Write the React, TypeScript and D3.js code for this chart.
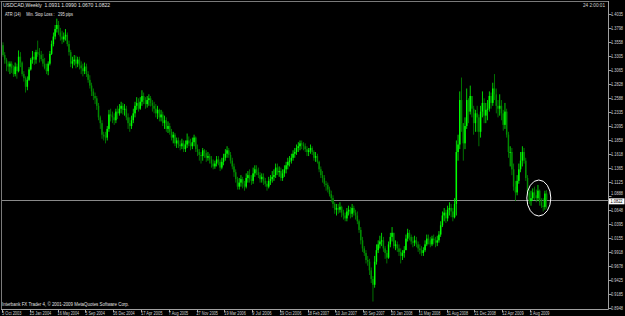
import React from "react";
import * as d3 from "d3";

const closes = [1.333,1.325,1.318,1.313,1.318,1.310,1.300,1.313,1.305,1.330,1.320,1.300,1.293,1.278,1.290,1.308,1.325,1.330,1.325,1.338,1.335,1.333,1.326,1.318,1.310,1.305,1.318,1.335,1.352,1.365,1.378,1.385,1.372,1.365,1.360,1.365,1.368,1.352,1.338,1.318,1.322,1.325,1.318,1.325,1.315,1.310,1.305,1.313,1.300,1.290,1.280,1.270,1.262,1.258,1.245,1.225,1.215,1.195,1.192,1.190,1.205,1.230,1.228,1.225,1.220,1.235,1.232,1.240,1.245,1.238,1.240,1.225,1.215,1.210,1.220,1.232,1.245,1.250,1.240,1.252,1.262,1.255,1.248,1.255,1.258,1.250,1.245,1.240,1.232,1.238,1.225,1.230,1.215,1.220,1.205,1.210,1.200,1.190,1.195,1.180,1.185,1.178,1.175,1.180,1.170,1.178,1.185,1.180,1.175,1.182,1.190,1.170,1.165,1.160,1.158,1.168,1.163,1.155,1.158,1.152,1.145,1.140,1.145,1.152,1.148,1.138,1.148,1.155,1.162,1.168,1.160,1.150,1.140,1.130,1.118,1.105,1.112,1.118,1.110,1.105,1.120,1.125,1.118,1.115,1.128,1.135,1.130,1.125,1.118,1.122,1.115,1.110,1.105,1.115,1.118,1.122,1.125,1.138,1.130,1.132,1.120,1.128,1.135,1.142,1.148,1.150,1.155,1.162,1.165,1.172,1.175,1.180,1.178,1.175,1.170,1.165,1.168,1.172,1.165,1.155,1.158,1.148,1.135,1.125,1.120,1.110,1.108,1.100,1.092,1.085,1.075,1.065,1.068,1.065,1.070,1.060,1.055,1.050,1.062,1.065,1.058,1.068,1.060,1.055,1.045,1.030,1.012,0.998,0.990,0.978,0.975,0.960,0.945,0.935,0.975,0.995,1.005,1.010,1.012,0.998,0.990,0.982,1.005,1.018,1.025,1.002,1.005,0.998,0.992,0.985,0.990,0.995,1.015,1.025,1.018,1.010,1.008,1.012,1.005,0.998,0.995,0.990,0.995,1.005,1.015,1.012,1.005,1.015,1.012,1.008,1.012,1.022,1.038,1.055,1.060,1.050,1.065,1.068,1.062,1.052,1.075,1.165,1.178,1.255,1.215,1.180,1.210,1.255,1.235,1.262,1.240,1.215,1.232,1.225,1.200,1.235,1.250,1.228,1.238,1.240,1.262,1.250,1.275,1.265,1.245,1.240,1.245,1.232,1.212,1.235,1.195,1.165,1.165,1.135,1.105,1.095,1.115,1.135,1.150,1.165,1.150,1.120,1.095,1.080,1.085,1.095,1.090,1.085,1.098,1.078,1.072,1.070,1.093,1.0822];

const opens = [1.350,1.333,1.325,1.318,1.313,1.318,1.310,1.300,1.313,1.305,1.330,1.320,1.300,1.293,1.278,1.290,1.308,1.325,1.330,1.325,1.338,1.335,1.333,1.326,1.318,1.310,1.305,1.318,1.335,1.352,1.365,1.378,1.385,1.372,1.365,1.360,1.365,1.368,1.352,1.338,1.318,1.322,1.325,1.318,1.325,1.315,1.310,1.305,1.313,1.300,1.290,1.280,1.270,1.262,1.258,1.245,1.225,1.215,1.195,1.192,1.190,1.205,1.230,1.228,1.225,1.220,1.235,1.232,1.240,1.245,1.238,1.240,1.225,1.215,1.210,1.220,1.232,1.245,1.250,1.240,1.252,1.262,1.255,1.248,1.255,1.258,1.250,1.245,1.240,1.232,1.238,1.225,1.230,1.215,1.220,1.205,1.210,1.200,1.190,1.195,1.180,1.185,1.178,1.175,1.180,1.170,1.178,1.185,1.180,1.175,1.182,1.190,1.170,1.165,1.160,1.158,1.168,1.163,1.155,1.158,1.152,1.145,1.140,1.145,1.152,1.148,1.138,1.148,1.155,1.162,1.168,1.160,1.150,1.140,1.130,1.118,1.105,1.112,1.118,1.110,1.105,1.120,1.125,1.118,1.115,1.128,1.135,1.130,1.125,1.118,1.122,1.115,1.110,1.105,1.115,1.118,1.122,1.125,1.138,1.130,1.132,1.120,1.128,1.135,1.142,1.148,1.150,1.155,1.162,1.165,1.172,1.175,1.180,1.178,1.175,1.170,1.165,1.168,1.172,1.165,1.155,1.158,1.148,1.135,1.125,1.120,1.110,1.108,1.100,1.092,1.085,1.075,1.065,1.068,1.065,1.070,1.060,1.055,1.050,1.062,1.065,1.058,1.068,1.060,1.055,1.045,1.030,1.012,0.998,0.990,0.978,0.975,0.960,0.945,0.935,0.975,0.995,1.005,1.010,1.012,0.998,0.990,0.982,1.005,1.018,1.025,1.002,1.005,0.998,0.992,0.985,0.990,0.995,1.015,1.025,1.018,1.010,1.008,1.012,1.005,0.998,0.995,0.990,0.995,1.005,1.015,1.012,1.005,1.015,1.012,1.008,1.012,1.022,1.038,1.055,1.060,1.050,1.065,1.068,1.062,1.052,1.075,1.165,1.178,1.255,1.215,1.180,1.210,1.255,1.235,1.262,1.240,1.215,1.232,1.225,1.200,1.235,1.250,1.228,1.238,1.240,1.262,1.250,1.275,1.265,1.245,1.240,1.245,1.232,1.212,1.235,1.195,1.165,1.165,1.135,1.105,1.095,1.115,1.135,1.150,1.165,1.150,1.120,1.095,1.080,1.085,1.095,1.090,1.085,1.098,1.078,1.072,1.070,1.0931];

const highs = [1.355,1.338,1.328,1.322,1.322,1.322,1.315,1.320,1.318,1.341,1.338,1.322,1.305,1.296,1.296,1.312,1.328,1.340,1.338,1.342,1.358,1.345,1.340,1.335,1.328,1.318,1.322,1.340,1.358,1.372,1.385,1.396,1.392,1.380,1.375,1.372,1.378,1.372,1.358,1.342,1.330,1.333,1.332,1.330,1.330,1.322,1.318,1.320,1.318,1.305,1.298,1.285,1.275,1.268,1.262,1.250,1.228,1.220,1.200,1.200,1.210,1.238,1.240,1.235,1.232,1.240,1.245,1.248,1.252,1.250,1.248,1.245,1.232,1.225,1.228,1.240,1.252,1.260,1.258,1.260,1.272,1.268,1.260,1.262,1.265,1.262,1.255,1.252,1.248,1.245,1.240,1.238,1.235,1.228,1.225,1.218,1.215,1.205,1.200,1.198,1.190,1.190,1.185,1.188,1.185,1.185,1.197,1.192,1.188,1.190,1.195,1.192,1.178,1.170,1.165,1.172,1.170,1.168,1.165,1.162,1.158,1.152,1.150,1.158,1.158,1.152,1.155,1.162,1.170,1.175,1.172,1.165,1.155,1.145,1.135,1.122,1.120,1.125,1.122,1.115,1.128,1.132,1.135,1.125,1.138,1.142,1.142,1.138,1.130,1.128,1.128,1.120,1.115,1.122,1.125,1.132,1.135,1.145,1.145,1.140,1.138,1.135,1.142,1.148,1.155,1.158,1.162,1.168,1.172,1.178,1.182,1.185,1.185,1.182,1.180,1.175,1.172,1.178,1.175,1.168,1.165,1.162,1.150,1.140,1.132,1.125,1.115,1.112,1.105,1.098,1.090,1.078,1.075,1.075,1.078,1.072,1.065,1.060,1.068,1.072,1.070,1.075,1.072,1.065,1.062,1.048,1.035,1.018,1.002,0.995,0.985,0.980,0.965,0.950,0.985,1.005,1.012,1.020,1.025,1.018,1.002,0.995,1.010,1.025,1.035,1.025,1.012,1.010,1.005,0.998,0.995,1.002,1.022,1.032,1.030,1.022,1.018,1.020,1.018,1.010,1.005,1.002,1.000,1.012,1.022,1.022,1.018,1.020,1.022,1.018,1.020,1.028,1.045,1.062,1.068,1.065,1.072,1.078,1.075,1.068,1.085,1.185,1.195,1.270,1.294,1.210,1.225,1.275,1.258,1.280,1.262,1.245,1.238,1.245,1.230,1.245,1.270,1.258,1.250,1.255,1.270,1.268,1.285,1.300,1.275,1.255,1.265,1.255,1.238,1.250,1.240,1.200,1.175,1.172,1.145,1.115,1.125,1.145,1.165,1.175,1.172,1.155,1.125,1.100,1.098,1.102,1.105,1.100,1.108,1.100,1.085,1.085,1.098,1.099];

const lows = [1.330,1.318,1.305,1.304,1.300,1.302,1.295,1.296,1.292,1.303,1.312,1.296,1.287,1.268,1.272,1.288,1.306,1.318,1.316,1.318,1.330,1.320,1.322,1.313,1.308,1.300,1.298,1.315,1.333,1.348,1.360,1.372,1.368,1.358,1.352,1.355,1.358,1.348,1.332,1.312,1.310,1.315,1.310,1.312,1.308,1.300,1.296,1.300,1.295,1.285,1.275,1.262,1.255,1.248,1.238,1.220,1.205,1.188,1.185,1.180,1.185,1.200,1.218,1.215,1.212,1.215,1.222,1.228,1.232,1.230,1.228,1.220,1.205,1.200,1.205,1.215,1.225,1.238,1.235,1.238,1.245,1.248,1.240,1.242,1.245,1.244,1.235,1.232,1.225,1.222,1.218,1.218,1.210,1.205,1.200,1.198,1.195,1.185,1.180,1.175,1.172,1.172,1.168,1.170,1.165,1.165,1.172,1.175,1.168,1.170,1.175,1.165,1.158,1.150,1.145,1.150,1.155,1.148,1.150,1.145,1.138,1.135,1.136,1.140,1.142,1.132,1.135,1.142,1.150,1.155,1.155,1.145,1.135,1.122,1.112,1.100,1.100,1.105,1.102,1.098,1.102,1.112,1.112,1.108,1.110,1.122,1.125,1.120,1.112,1.112,1.108,1.105,1.098,1.102,1.108,1.112,1.115,1.120,1.125,1.122,1.115,1.115,1.122,1.128,1.135,1.140,1.145,1.150,1.155,1.160,1.165,1.168,1.170,1.168,1.165,1.158,1.158,1.162,1.160,1.150,1.148,1.145,1.130,1.120,1.112,1.105,1.098,1.095,1.088,1.078,1.068,1.058,1.055,1.058,1.060,1.052,1.048,1.045,1.045,1.055,1.050,1.052,1.055,1.048,1.040,1.025,1.005,0.992,0.985,0.972,0.968,0.952,0.938,0.906,0.930,0.970,0.990,0.998,1.002,0.992,0.980,0.972,0.980,1.000,1.010,0.998,0.995,0.992,0.985,0.972,0.978,0.982,0.995,1.010,1.012,1.005,1.000,1.002,1.000,0.992,0.988,0.985,0.985,0.992,1.002,1.005,1.000,1.002,1.005,1.000,1.002,1.008,1.018,1.035,1.045,1.042,1.045,1.055,1.052,1.045,1.050,1.055,1.150,1.170,1.200,1.150,1.170,1.205,1.215,1.230,1.225,1.195,1.200,1.200,1.175,1.190,1.225,1.215,1.215,1.220,1.235,1.240,1.245,1.255,1.232,1.225,1.228,1.220,1.202,1.205,1.190,1.155,1.140,1.125,1.098,1.080,1.090,1.110,1.130,1.140,1.145,1.115,1.090,1.075,1.072,1.080,1.082,1.078,1.080,1.072,1.068,1.062,1.065,1.067];

const dateLabels = ["5 Oct 2003","25 Jan 2004","16 May 2004","5 Sep 2004","26 Dec 2004","17 Apr 2005","7 Aug 2005","27 Nov 2005","19 Mar 2006","9 Jul 2006","29 Oct 2006","18 Feb 2007","10 Jun 2007","30 Sep 2007","20 Jan 2008","11 May 2008","31 Aug 2008","21 Dec 2008","12 Apr 2009","2 Aug 2009"];
const priceLabels = ["1.4035","1.3798","1.3558","1.3305","1.3065","1.2828","1.2588","1.2335","1.2095","1.1858","1.1618","1.1365","1.1125","1.0888","1.0648","1.0395","1.0155","0.9918","0.9678","0.9425","0.9185","0.8948"];

const symbolTitle = "USDCAD,Weekly  1.0931 1.0990 1.0670 1.0822";
const atrTitle = "ATR (14)     Min. Stop Loss :   295 pips";
const copyright = "Interbank FX Trader 4, \u00a9 2001-2009 MetaQuotes Software Corp.";
const timerText = "24 2:00:01";
const currentPrice = 1.0822;

const W = 625, H = 316;
const FONT = "'Liberation Sans', Arial, sans-serif";

export default function App() {
  const x = d3.scaleLinear().domain([0, 304]).range([3, 531]);
  const y = d3.scaleLinear().domain([0.8948, 1.3798]).range([308, 28]);
  const axisX = 608.5, axisY = 309.5;
  const cy = y(currentPrice);
  const lastIdx = closes.length - 1;
  const circleCx = (x(lastIdx - 9) + x(lastIdx)) / 2;
  return (
    <div style={{ position: "absolute", left: 0, top: 0 }}>
      <svg width={W} height={H} style={{ display: "block", background: "#000" }}>
        <rect x={0} y={0} width={W} height={H} fill="#000" />
        {/* frame */}
        <line x1={0.5} y1={1.5} x2={axisX} y2={1.5} stroke="#7a7a7a" strokeWidth={1} />
        <line x1={1.5} y1={1} x2={1.5} y2={axisY} stroke="#7a7a7a" strokeWidth={1} />
        <line x1={axisX} y1={1} x2={axisX} y2={axisY} stroke="#a0a0a0" strokeWidth={1} />
        <line x1={1} y1={axisY} x2={axisX} y2={axisY} stroke="#a0a0a0" strokeWidth={1} />
        {/* bid line */}
        <line x1={2} y1={Math.round(cy) + 0.5} x2={axisX} y2={Math.round(cy) + 0.5} stroke="#8a8a8a" strokeWidth={1} />
        {/* candles */}
        {closes.map((c, i) => {
          const o = opens[i];
          const hi = Math.max(highs[i], o, c);
          const lo = Math.min(lows[i], o, c);
          const up = c >= o;
          const col = up ? "#00ff00" : "#008c00";
          const cx = x(i);
          const top = y(Math.max(o, c));
          const bot = y(Math.min(o, c));
          return (
            <g key={i}>
              <rect x={cx - 0.4} y={y(hi)} width={0.8} height={Math.max(0.8, y(lo) - y(hi))} fill={col} />
              <rect x={cx - 0.75} y={top} width={1.5} height={Math.max(0.8, bot - top)} fill={col} />
            </g>
          );
        })}
        {/* circle annotation */}
        <ellipse cx={circleCx} cy={198} rx={12} ry={18} fill="none" stroke="#ffffff" strokeWidth={1} />
        {/* price axis */}
        {priceLabels.map((p, i) => {
          const py = Math.round(y(+p)) + 0.5;
          const hidden = Math.abs(py - cy) < 4;
          return (
            <g key={i}>
              <line x1={axisX} x2={axisX + 3} y1={py} y2={py} stroke="#a0a0a0" strokeWidth={1} />
              <text x={611} y={hidden ? py - 1.5 : py + 1.8} fontSize={4.8} fill="#d0d0d0" fontFamily={FONT}
                textLength={12} lengthAdjust="spacingAndGlyphs">{p}</text>
            </g>
          );
        })}
        <rect x={609} y={cy - 1.5} width={15.5} height={6} fill="#ffffff" />
        <text x={610.5} y={cy + 3} fontSize={4.8} fill="#000" fontFamily={FONT}
          textLength={12} lengthAdjust="spacingAndGlyphs">{currentPrice.toFixed(4)}</text>
        {/* date axis */}
        {dateLabels.map((d, i) => {
          const px = x(i * 16);
          return (
            <g key={i}>
              <line x1={Math.round(px) - 0.5} x2={Math.round(px) - 0.5} y1={axisY} y2={axisY + 3} stroke="#a0a0a0" strokeWidth={1} />
              <text x={px - 1} y={315} fontSize={4.8} fill="#d0d0d0" fontFamily={FONT}
                textLength={d.length * 1.95} lengthAdjust="spacingAndGlyphs">{d}</text>
            </g>
          );
        })}
        {/* titles */}
        <text x={3} y={7} fontSize={5.2} fill="#e0e0e0" fontFamily={FONT}
          textLength={107} lengthAdjust="spacingAndGlyphs" style={{ whiteSpace: "pre" }}>{symbolTitle}</text>
        <text x={5} y={16} fontSize={5.2} fill="#e0e0e0" fontFamily={FONT}
          textLength={68} lengthAdjust="spacingAndGlyphs" style={{ whiteSpace: "pre" }}>{atrTitle}</text>
        <text x={2} y={305.5} fontSize={4.8} fill="#e0e0e0" fontFamily={FONT}
          textLength={127} lengthAdjust="spacingAndGlyphs">{copyright}</text>
        <text x={583} y={7} fontSize={4.8} fill="#d0d0d0" fontFamily={FONT}
          textLength={22} lengthAdjust="spacingAndGlyphs">{timerText}</text>
      </svg>
    </div>
  );
}
